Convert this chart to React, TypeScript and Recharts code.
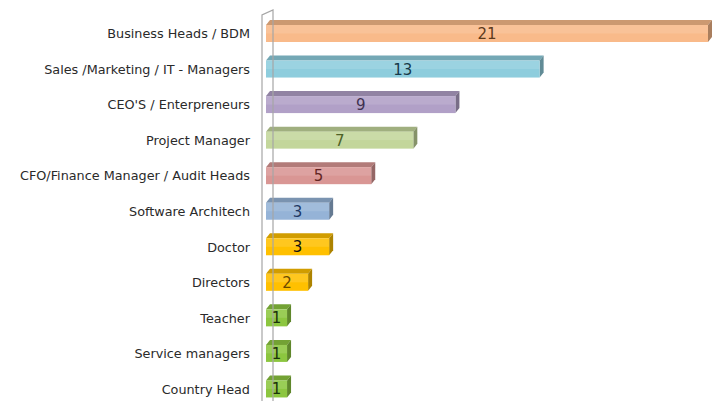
import React from 'react';
import { BarChart, Bar, XAxis, YAxis, ReferenceLine, LabelList } from 'recharts';

const CATEGORIES = [
  'Business Heads / BDM',
  'Sales /Marketing / IT - Managers',
  "CEO'S / Enterpreneurs",
  'Project Manager',
  'CFO/Finance Manager / Audit Heads',
  'Software Architech',
  'Doctor',
  'Directors',
  'Teacher',
  'Service managers',
  'Country Head',
];
const COUNTS = [21, 13, 9, 7, 5, 3, 3, 2, 1, 1, 1];

// office-ish palette, one per bar
const FILLS = ['#F9BA8A', '#8ECDDD', '#B1A0C7', '#C3D69B', '#D99694', '#95B3D7', '#FFC000', '#FFC000', '#8CC63F', '#8CC63F', '#8CC63F'];
const TEXT_COLORS = ['#5C3A1C', '#173A4A', '#3F3151', '#4F6228', '#632523', '#1F3864', '#111111', '#6B4A00', '#1A330A', '#1A330A', '#1A330A'];

const data = CATEGORIES.map((name, i) => ({ name, count: COUNTS[i] }));

const DX = 4;
const DY = 5;

function shade(hex: string, f: number) {
  const n = parseInt(hex.slice(1), 16);
  const r = Math.round(((n >> 16) & 255) * f);
  const g = Math.round(((n >> 8) & 255) * f);
  const b = Math.round((n & 255) * f);
  return `rgb(${r},${g},${b})`;
}

// eslint-disable-next-line @typescript-eslint/no-explicit-any
const Bar3D = (props: any) => {
  const { x, y, width, height, index } = props;
  const c = FILLS[index];
  return (
    <g>
      <polygon
        points={`${x},${y} ${x + DX},${y - DY} ${x + width + DX},${y - DY} ${x + width},${y}`}
        fill={shade(c, 0.82)}
      />
      <polygon
        points={`${x + width},${y} ${x + width + DX},${y - DY} ${x + width + DX},${y + height - DY} ${x + width},${y + height}`}
        fill={shade(c, 0.68)}
      />
      <rect x={x} y={y} width={width} height={height} fill={c} />
      <rect x={x} y={y} width={width} height={height / 2} fill="#ffffff" fillOpacity={0.12} />
    </g>
  );
};

// eslint-disable-next-line @typescript-eslint/no-explicit-any
const ValueLabel = (props: any) => {
  const { x, y, width, height, value, index } = props;
  return (
    <text
      x={x + width / 2}
      y={y + height / 2 + 1}
      textAnchor="middle"
      dominantBaseline="middle"
      fontFamily="DejaVu Sans"
      fontSize={15}
      fill={TEXT_COLORS[index]}
    >
      {value}
    </text>
  );
};

// eslint-disable-next-line @typescript-eslint/no-explicit-any
const Wall = (props: any) => {
  const { x1, y1, y2 } = props;
  const top = Math.min(y1, y2);
  return (
    <g stroke="#A6A6A6" strokeWidth={1.2} fill="none">
      <polyline points={`${x1 - 4},${top + 400} ${x1 - 4},${top - 1} ${x1 + 7},${top - 6} ${x1 + 7},${top + 400}`} />
    </g>
  );
};

export default function App() {
  return (
    <div style={{ position: 'absolute', left: 0, top: 0, width: 713, height: 401, overflow: 'hidden', background: '#fff' }}>
      <BarChart
        width={713}
        height={410}
        data={data}
        layout="vertical"
        margin={{ top: 16, right: 5, left: 0, bottom: 3 }}
        barSize={17}
      >
        <XAxis type="number" domain={[0, 21]} hide />
        <YAxis
          type="category"
          dataKey="name"
          width={266}
          axisLine={false}
          tickLine={false}
          tickMargin={10}
          tick={{ fill: '#2a2a2a', fontSize: 12.8, fontFamily: 'DejaVu Sans' }}
          interval={0}
        />
        <ReferenceLine x={0} ifOverflow="visible" shape={Wall} />
        <Bar dataKey="count" shape={Bar3D} isAnimationActive={false}>
          <LabelList dataKey="count" content={ValueLabel} />
        </Bar>
      </BarChart>
    </div>
  );
}
